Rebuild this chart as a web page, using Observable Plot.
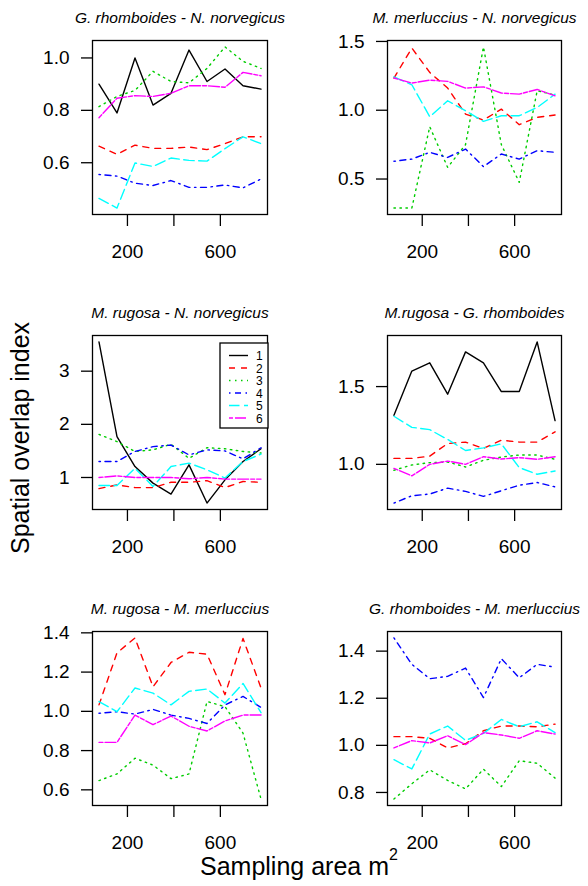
<!DOCTYPE html>
<html><head><meta charset="utf-8">
<script src="https://cdn.jsdelivr.net/npm/d3@7"></script>
<script src="https://cdn.jsdelivr.net/npm/@observablehq/plot@0.6"></script>
<style>
html,body{margin:0;padding:0;background:#fff;}
#chart{position:relative;width:588px;height:886px;overflow:hidden;font-family:"Liberation Sans",Arial,Helvetica,sans-serif;background:#fff;}
.panel{position:absolute;}
#overlay{position:absolute;left:0;top:0;pointer-events:none;}
</style></head><body><div id="chart"></div>
<script>
// ---- data ----
const areas = [77.5, 155, 232.5, 310, 387.5, 465, 542.5, 620, 697.5, 775];
const seriesLabels = ["1", "2", "3", "4", "5", "6"];
const xTicks = [200, 400, 600];
const xTickLabels = [200, 600];

const panelTitles = [
  "G. rhomboides - N. norvegicus",
  "M. merluccius - N. norvegicus",
  "M. rugosa - N. norvegicus",
  "M.rugosa - G. rhomboides",
  "M. rugosa - M. merluccius",
  "G. rhomboides - M. merluccius"
];

const gRhomNNorv = [
  [0.90, 0.79, 1.00, 0.82, 0.865, 1.03, 0.91, 0.958, 0.894, 0.881],
  [0.663, 0.632, 0.667, 0.655, 0.655, 0.66, 0.65, 0.673, 0.699, 0.699],
  [0.814, 0.853, 0.876, 0.949, 0.91, 0.905, 0.96, 1.042, 0.987, 0.96],
  [0.555, 0.549, 0.522, 0.513, 0.532, 0.506, 0.506, 0.515, 0.504, 0.538],
  [0.464, 0.427, 0.599, 0.586, 0.618, 0.609, 0.606, 0.654, 0.699, 0.673],
  [0.772, 0.846, 0.856, 0.853, 0.865, 0.894, 0.894, 0.888, 0.945, 0.932]
];
const mMerlNNorv = [
  null,
  [1.234, 1.452, 1.275, 1.161, 0.972, 0.929, 1.008, 0.895, 0.948, 0.965],
  [0.289, 0.289, 0.88, 0.585, 0.75, 1.46, 0.75, 0.476, 1.142, 1.11],
  [0.629, 0.645, 0.694, 0.657, 0.718, 0.59, 0.682, 0.645, 0.706, 0.694],
  [1.243, 1.185, 0.953, 1.069, 0.996, 0.919, 0.96, 0.96, 1.02, 1.117],
  [1.234, 1.197, 1.219, 1.21, 1.161, 1.17, 1.125, 1.117, 1.151, 1.105]
];
const mRugNNorv = [
  [3.55, 1.77, 1.206, 0.894, 0.688, 1.238, 0.519, 0.956, 1.30, 1.54],
  [0.79, 0.86, 0.81, 0.81, 0.91, 0.91, 0.94, 0.81, 0.925, 0.91],
  [1.81, 1.675, 1.49, 1.52, 1.625, 1.36, 1.56, 1.54, 1.49, 1.46],
  [1.30, 1.30, 1.49, 1.58, 1.61, 1.425, 1.52, 1.50, 1.35, 1.56],
  [0.85, 0.85, 1.175, 0.83, 1.206, 1.27, 1.144, 0.99, 1.30, 1.44],
  [1.0, 1.03, 1.0, 1.0, 1.0, 0.975, 1.0, 0.97, 0.97, 0.97]
];
const mRugGRhom = [
  [1.315, 1.60, 1.653, 1.451, 1.723, 1.653, 1.468, 1.468, 1.787, 1.281],
  [1.038, 1.038, 1.053, 1.134, 1.143, 1.102, 1.155, 1.143, 1.143, 1.209],
  [0.962, 0.996, 1.011, 1.015, 0.983, 1.026, 1.047, 1.06, 1.06, 1.032],
  [0.751, 0.798, 0.809, 0.847, 0.826, 0.794, 0.83, 0.866, 0.883, 0.855],
  [1.309, 1.238, 1.223, 1.16, 1.089, 1.106, 1.132, 0.979, 0.936, 0.957],
  [0.974, 0.926, 1.0, 1.021, 1.0, 1.049, 1.034, 1.043, 1.032, 1.049]
];
const mRugMMerl = [
  null,
  [1.033, 1.298, 1.374, 1.125, 1.249, 1.301, 1.291, 1.085, 1.371, 1.119],
  [0.647, 0.681, 0.761, 0.726, 0.657, 0.681, 1.05, 1.024, 0.889, 0.553],
  [0.99, 0.998, 0.986, 1.01, 0.981, 0.964, 0.938, 1.033, 1.076, 1.02],
  [1.05, 0.998, 1.119, 1.093, 1.033, 1.102, 1.114, 1.042, 1.142, 0.993],
  [0.842, 0.842, 0.981, 0.932, 0.976, 0.924, 0.90, 0.951, 0.981, 0.981]
];
const gRhomMMerl = [
  null,
  [1.037, 1.037, 1.03, 0.989, 1.007, 1.062, 1.082, 1.082, 1.079, 1.09],
  [0.772, 0.837, 0.896, 0.851, 0.815, 0.899, 0.825, 0.935, 0.924, 0.861],
  [1.456, 1.344, 1.283, 1.293, 1.328, 1.203, 1.368, 1.287, 1.344, 1.332],
  [0.939, 0.90, 1.048, 1.082, 1.021, 1.051, 1.11, 1.079, 1.10, 1.054],
  [0.989, 1.02, 1.01, 1.041, 1.003, 1.054, 1.044, 1.03, 1.062, 1.048]
];

const yTicksList = [
  [0.6, 0.8, 1.0],
  [0.5, 1.0, 1.5],
  [1, 2, 3],
  [1.0, 1.5],
  [0.6, 0.8, 1.0, 1.2, 1.4],
  [0.8, 1.0, 1.2, 1.4]
];
const yFormats = [".1f", ".1f", "d", ".1f", ".1f", ".1f"];

// ---- styles ----
const seriesColors = ["#000000", "#FF0000", "#00CD00", "#0000FF", "#00FFFF", "#FF00FF"];
const seriesDash = [null, "6,6", "1.5,4.5", "1.5,4.5,6,4.5", "10.5,4.5", "4,2,11,2"];
const LW = 1.4;
const FONT = '"Liberation Sans", Arial, Helvetica, sans-serif';

const panels = [gRhomNNorv, mMerlNNorv, mRugNNorv, mRugGRhom, mRugMMerl, gRhomMMerl];
const chart = document.getElementById("chart");

const W = 294, H = 295;
const rowTops = [0, 295, 591];
const colLefts = [0, 294];
const colMarginLeft = [92, 93];

function ext(arr) {
  const [a, b] = d3.extent(arr);
  const p = (b - a) * 0.04;
  return [a - p, b + p];
}

panels.forEach((data, i) => {
  const row = Math.floor(i / 2), col = i % 2;
  const all = data.filter(d => d).flat();
  const marks = [];
  data.forEach((vals, k) => {
    if (!vals) return;
    const pts = areas.map((a, j) => ({x: a, y: vals[j]}));
    marks.push(Plot.line(pts, {
      x: "x", y: "y", stroke: seriesColors[k], strokeWidth: LW,
      strokeDasharray: seriesDash[k] || undefined
    }));
  });
  marks.push(Plot.frame({stroke: "black", strokeWidth: 1.3}));
  marks.push(Plot.axisX(xTicks, {tickSize: 12, tickFormat: () => "", label: null, strokeWidth: 1.3}));
  marks.push(Plot.axisX(xTickLabels, {tickSize: 0, tickPadding: 30, fontSize: 19, label: null}));
  marks.push(Plot.axisY(yTicksList[i], {tickSize: 11, tickPadding: 12, fontSize: 19, label: null,
    tickFormat: d3.format(yFormats[i]), strokeWidth: 1.3}));
  marks.push(Plot.text([panelTitles[i]], {text: d => d, frameAnchor: "top", dy: -18,
    lineAnchor: "bottom", fontStyle: "italic", fontSize: 15.5}));

  const svg = Plot.plot({
    width: W, height: H,
    marginLeft: colMarginLeft[col], marginRight: W - colMarginLeft[col] - 175 + (col ? 1 : 0),
    marginTop: 40, marginBottom: 81,
    x: {domain: ext(areas)},
    y: {domain: ext(all)},
    style: {fontFamily: FONT, color: "black", background: "transparent", overflow: "visible"},
    marks
  });
  svg.classList.add("panel");
  svg.style.left = colLefts[col] + "px";
  svg.style.top = rowTops[row] + "px";
  chart.appendChild(svg);
});

// ---- overlay: axis titles + legend ----
const ov = d3.create("svg").attr("id", "overlay").attr("width", 588).attr("height", 886)
  .style("font-family", FONT);

ov.append("text")
  .attr("transform", "translate(29,438) rotate(-90)")
  .attr("text-anchor", "middle")
  .attr("font-size", 25)
  .text("Spatial overlap index");

const xt = ov.append("text").attr("x", 200).attr("y", 875).attr("font-size", 25);
xt.append("tspan").text("Sampling area m");
xt.append("tspan").attr("dy", -15).attr("font-size", 16).text("2");

// legend in the "M. rugosa - N. norvegicus" panel
const lg = ov.append("g").attr("transform", "translate(220,343)");
lg.append("rect").attr("width", 48).attr("height", 85).attr("fill", "white")
  .attr("stroke", "black").attr("stroke-width", 1.3);
seriesLabels.forEach((lab, k) => {
  const yy = 12.5 + k * 12.5;
  lg.append("line").attr("x1", 9).attr("x2", 28).attr("y1", yy).attr("y2", yy)
    .attr("stroke", seriesColors[k]).attr("stroke-width", LW)
    .attr("stroke-dasharray", seriesDash[k]);
  lg.append("text").attr("x", 36).attr("y", yy + 4.5).attr("font-size", 12).text(lab);
});
chart.appendChild(ov.node());
</script></body></html>
